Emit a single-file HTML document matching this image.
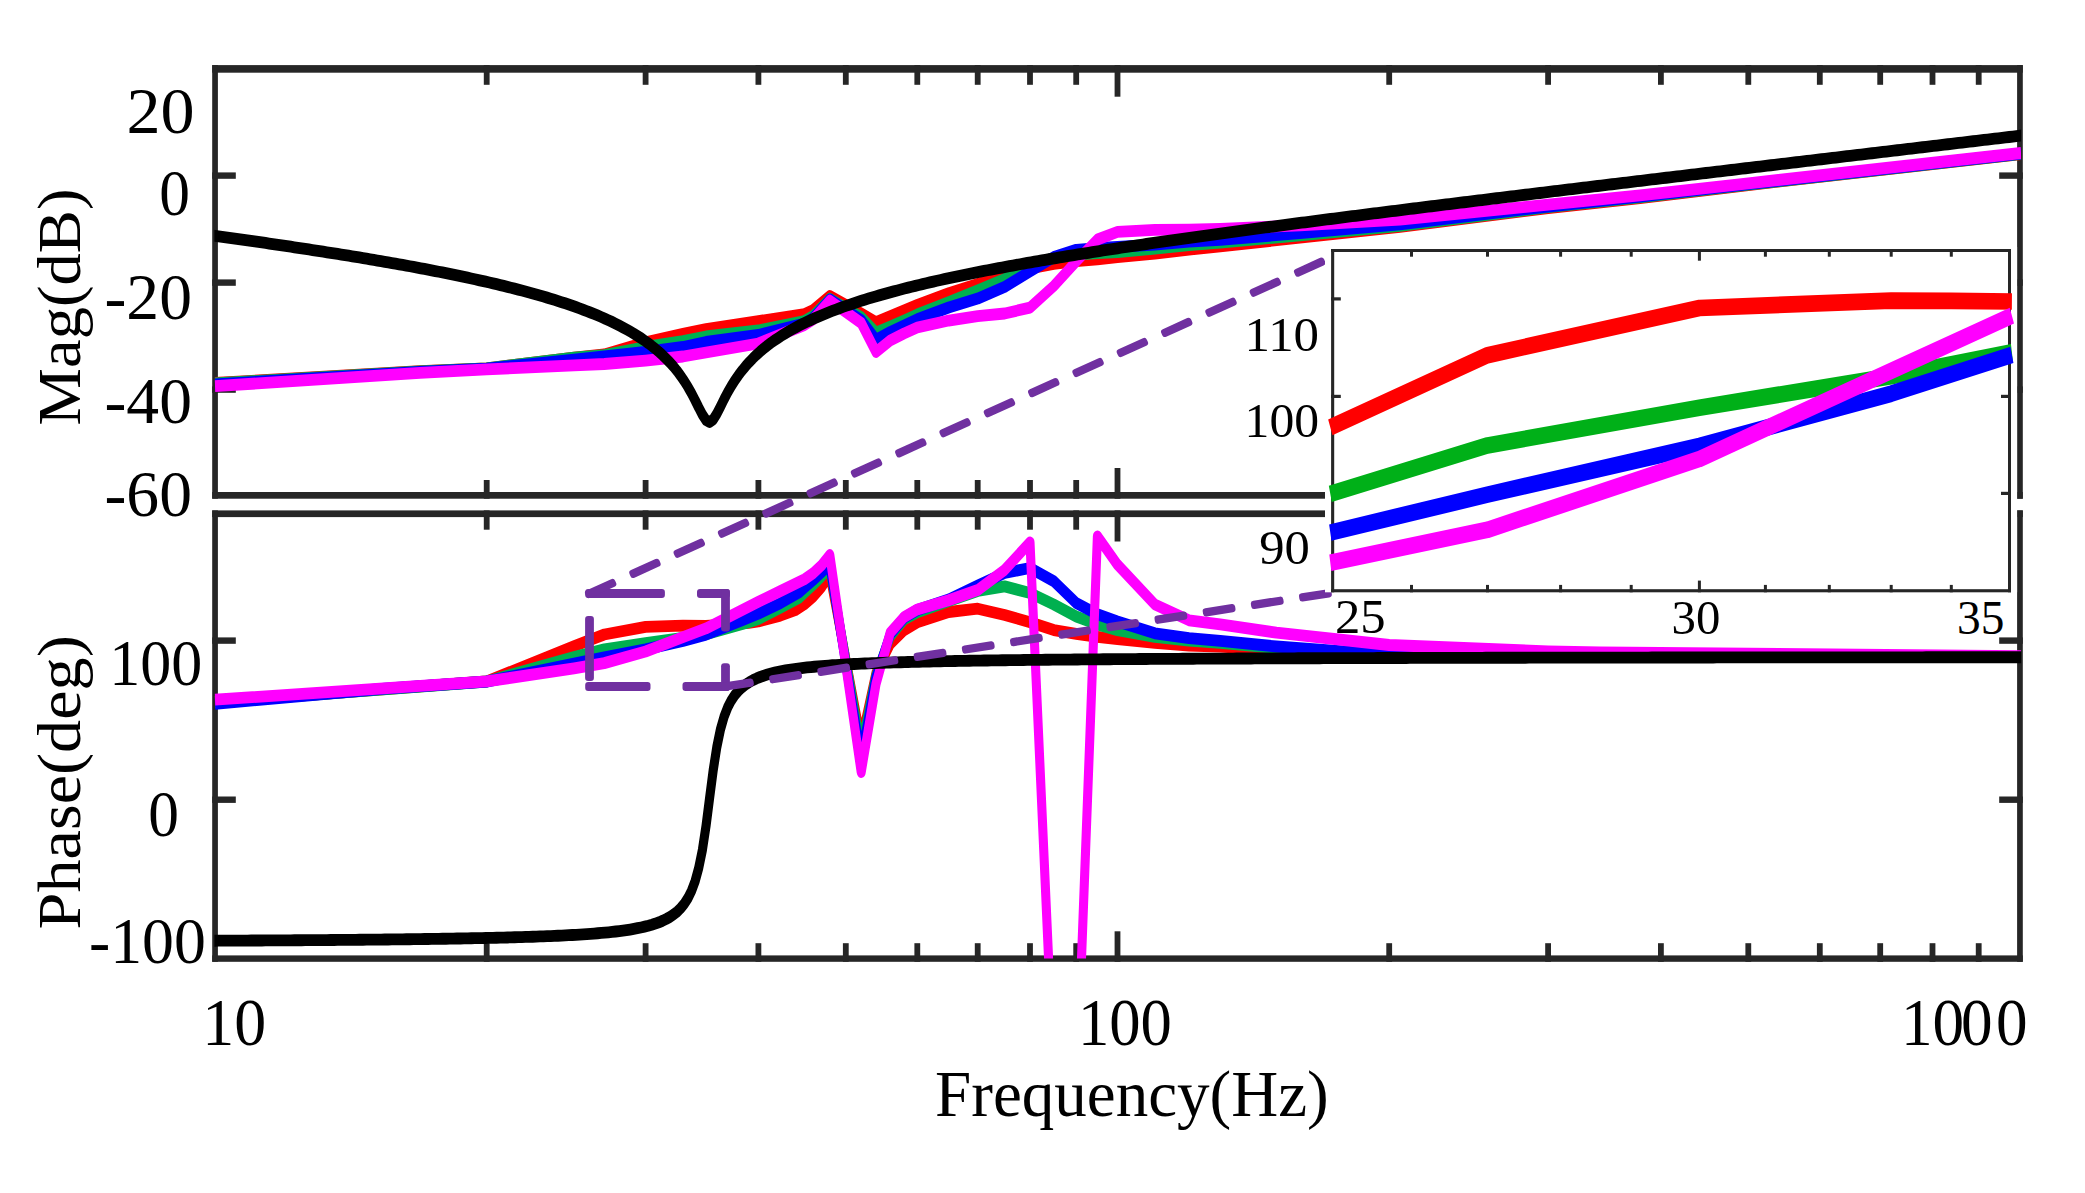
<!DOCTYPE html>
<html lang="en"><head><meta charset="utf-8"><title>Bode plot</title>
<style>html,body{margin:0;padding:0;background:#fff}svg{display:block}text{font-family:"Liberation Serif",serif;fill:#000}</style></head><body>
<svg width="2085" height="1193" viewBox="0 0 2085 1193">
<rect width="2085" height="1193" fill="#fff"/>
<defs>
<clipPath id="ct"><rect x="214.4" y="68.9" width="1806.7" height="426.4"/></clipPath>
<clipPath id="cb"><rect x="214.4" y="513.8" width="1806.7" height="444.8"/></clipPath>
</defs>
<g id="axes">
<rect x="212.2" y="65.1" width="1810.6" height="7.6" fill="#262626"/>
<rect x="212.2" y="492.0" width="1810.6" height="6.7" fill="#262626"/>
<rect x="212.2" y="65.1" width="5.7" height="433.6" fill="#262626"/>
<rect x="2017.1" y="65.1" width="5.7" height="433.6" fill="#262626"/>
<rect x="212.2" y="510.4" width="1810.6" height="6.7" fill="#262626"/>
<rect x="212.2" y="955.4" width="1810.6" height="6.4" fill="#262626"/>
<rect x="212.2" y="510.4" width="5.7" height="451.4" fill="#262626"/>
<rect x="2017.1" y="510.4" width="5.7" height="451.4" fill="#262626"/>
<rect x="483.8" y="65.1" width="5.8" height="19.7" fill="#262626"/>
<rect x="483.8" y="480.0" width="5.8" height="18.7" fill="#262626"/>
<rect x="483.8" y="510.4" width="5.8" height="19.3" fill="#262626"/>
<rect x="483.8" y="943.2" width="5.8" height="18.6" fill="#262626"/>
<rect x="642.7" y="65.1" width="5.8" height="19.7" fill="#262626"/>
<rect x="642.7" y="480.0" width="5.8" height="18.7" fill="#262626"/>
<rect x="642.7" y="510.4" width="5.8" height="19.3" fill="#262626"/>
<rect x="642.7" y="943.2" width="5.8" height="18.6" fill="#262626"/>
<rect x="755.5" y="65.1" width="5.8" height="19.7" fill="#262626"/>
<rect x="755.5" y="480.0" width="5.8" height="18.7" fill="#262626"/>
<rect x="755.5" y="510.4" width="5.8" height="19.3" fill="#262626"/>
<rect x="755.5" y="943.2" width="5.8" height="18.6" fill="#262626"/>
<rect x="842.9" y="65.1" width="5.8" height="19.7" fill="#262626"/>
<rect x="842.9" y="480.0" width="5.8" height="18.7" fill="#262626"/>
<rect x="842.9" y="510.4" width="5.8" height="19.3" fill="#262626"/>
<rect x="842.9" y="943.2" width="5.8" height="18.6" fill="#262626"/>
<rect x="914.4" y="65.1" width="5.8" height="19.7" fill="#262626"/>
<rect x="914.4" y="480.0" width="5.8" height="18.7" fill="#262626"/>
<rect x="914.4" y="510.4" width="5.8" height="19.3" fill="#262626"/>
<rect x="914.4" y="943.2" width="5.8" height="18.6" fill="#262626"/>
<rect x="974.8" y="65.1" width="5.8" height="19.7" fill="#262626"/>
<rect x="974.8" y="480.0" width="5.8" height="18.7" fill="#262626"/>
<rect x="974.8" y="510.4" width="5.8" height="19.3" fill="#262626"/>
<rect x="974.8" y="943.2" width="5.8" height="18.6" fill="#262626"/>
<rect x="1027.1" y="65.1" width="5.8" height="19.7" fill="#262626"/>
<rect x="1027.1" y="480.0" width="5.8" height="18.7" fill="#262626"/>
<rect x="1027.1" y="510.4" width="5.8" height="19.3" fill="#262626"/>
<rect x="1027.1" y="943.2" width="5.8" height="18.6" fill="#262626"/>
<rect x="1073.3" y="65.1" width="5.8" height="19.7" fill="#262626"/>
<rect x="1073.3" y="480.0" width="5.8" height="18.7" fill="#262626"/>
<rect x="1073.3" y="510.4" width="5.8" height="19.3" fill="#262626"/>
<rect x="1073.3" y="943.2" width="5.8" height="18.6" fill="#262626"/>
<rect x="1114.6" y="65.1" width="5.8" height="31.6" fill="#262626"/>
<rect x="1114.6" y="468.0" width="5.8" height="30.7" fill="#262626"/>
<rect x="1114.6" y="510.4" width="5.8" height="31.1" fill="#262626"/>
<rect x="1114.6" y="931.3" width="5.8" height="30.5" fill="#262626"/>
<rect x="1386.3" y="65.1" width="5.8" height="19.7" fill="#262626"/>
<rect x="1386.3" y="480.0" width="5.8" height="18.7" fill="#262626"/>
<rect x="1386.3" y="510.4" width="5.8" height="19.3" fill="#262626"/>
<rect x="1386.3" y="943.2" width="5.8" height="18.6" fill="#262626"/>
<rect x="1545.2" y="65.1" width="5.8" height="19.7" fill="#262626"/>
<rect x="1545.2" y="480.0" width="5.8" height="18.7" fill="#262626"/>
<rect x="1545.2" y="510.4" width="5.8" height="19.3" fill="#262626"/>
<rect x="1545.2" y="943.2" width="5.8" height="18.6" fill="#262626"/>
<rect x="1658.0" y="65.1" width="5.8" height="19.7" fill="#262626"/>
<rect x="1658.0" y="480.0" width="5.8" height="18.7" fill="#262626"/>
<rect x="1658.0" y="510.4" width="5.8" height="19.3" fill="#262626"/>
<rect x="1658.0" y="943.2" width="5.8" height="18.6" fill="#262626"/>
<rect x="1745.4" y="65.1" width="5.8" height="19.7" fill="#262626"/>
<rect x="1745.4" y="480.0" width="5.8" height="18.7" fill="#262626"/>
<rect x="1745.4" y="510.4" width="5.8" height="19.3" fill="#262626"/>
<rect x="1745.4" y="943.2" width="5.8" height="18.6" fill="#262626"/>
<rect x="1816.9" y="65.1" width="5.8" height="19.7" fill="#262626"/>
<rect x="1816.9" y="480.0" width="5.8" height="18.7" fill="#262626"/>
<rect x="1816.9" y="510.4" width="5.8" height="19.3" fill="#262626"/>
<rect x="1816.9" y="943.2" width="5.8" height="18.6" fill="#262626"/>
<rect x="1877.3" y="65.1" width="5.8" height="19.7" fill="#262626"/>
<rect x="1877.3" y="480.0" width="5.8" height="18.7" fill="#262626"/>
<rect x="1877.3" y="510.4" width="5.8" height="19.3" fill="#262626"/>
<rect x="1877.3" y="943.2" width="5.8" height="18.6" fill="#262626"/>
<rect x="1929.6" y="65.1" width="5.8" height="19.7" fill="#262626"/>
<rect x="1929.6" y="480.0" width="5.8" height="18.7" fill="#262626"/>
<rect x="1929.6" y="510.4" width="5.8" height="19.3" fill="#262626"/>
<rect x="1929.6" y="943.2" width="5.8" height="18.6" fill="#262626"/>
<rect x="1975.8" y="65.1" width="5.8" height="19.7" fill="#262626"/>
<rect x="1975.8" y="480.0" width="5.8" height="18.7" fill="#262626"/>
<rect x="1975.8" y="510.4" width="5.8" height="19.3" fill="#262626"/>
<rect x="1975.8" y="943.2" width="5.8" height="18.6" fill="#262626"/>
<rect x="212.2" y="172.4" width="23.6" height="6.4" fill="#262626"/>
<rect x="1999.2" y="172.4" width="23.6" height="6.4" fill="#262626"/>
<rect x="212.2" y="279.4" width="23.6" height="6.4" fill="#262626"/>
<rect x="1999.2" y="279.4" width="23.6" height="6.4" fill="#262626"/>
<rect x="212.2" y="386.4" width="23.6" height="6.4" fill="#262626"/>
<rect x="1999.2" y="386.4" width="23.6" height="6.4" fill="#262626"/>
<rect x="212.2" y="637.4" width="23.6" height="6.4" fill="#262626"/>
<rect x="1999.2" y="637.4" width="23.6" height="6.4" fill="#262626"/>
<rect x="212.2" y="796.5" width="23.6" height="6.4" fill="#262626"/>
<rect x="1999.2" y="796.5" width="23.6" height="6.4" fill="#262626"/>
</g>
<g clip-path="url(#ct)"><g transform="scale(1 1.300)" fill="none" stroke-linejoin="round" stroke-linecap="butt">
<polyline points="215.0,294.62 420.0,285.54 486.7,283.31 574.1,275.08 604.3,272.62 645.6,263.31 683.0,256.77 706.0,253.15 758.4,247.08 804.5,241.54 813.1,238.46 829.8,227.62 861.2,241.15 876.0,247.77 917.3,234.62 948.7,225.54 977.7,218.46 1004.7,211.92 1030.0,206.54 1053.8,202.92 1076.2,200.85 1097.4,199.54 1117.5,197.85 1154.9,195.15 1189.0,191.92 1220.3,189.46 1300.0,182.85 1400.0,174.54 1548.1,160.00 1640.0,152.46 1748.3,142.31 2021.0,118.46" stroke="#FF0000" stroke-width="9.10" />
<polyline points="215.0,294.92 420.0,285.69 486.7,283.38 574.1,275.08 604.3,273.23 645.6,266.92 683.0,262.46 706.0,258.85 758.4,254.23 804.5,246.92 813.1,243.08 829.8,229.85 861.2,244.00 876.0,255.92 890.2,251.23 904.0,246.62 917.3,241.92 948.7,232.46 977.7,223.38 1004.7,214.62 1030.0,204.62 1053.8,198.46 1076.2,195.77 1097.4,194.77 1117.5,194.00 1154.9,191.31 1189.0,188.54 1220.3,186.69 1300.0,181.00 1400.0,173.69 1548.1,159.38 1640.0,151.77 1748.3,142.00 2021.0,118.31" stroke="#00B050" stroke-width="9.10" />
<polyline points="215.0,295.62 420.0,286.00 486.7,283.62 574.1,276.62 604.3,274.08 645.6,270.62 683.0,266.92 706.0,263.08 758.4,257.69 804.5,248.85 813.1,244.62 829.8,230.31 861.2,246.15 876.0,261.31 890.2,255.38 904.0,250.38 917.3,245.54 948.7,236.54 977.7,229.69 1004.7,220.69 1030.0,208.69 1053.8,197.77 1076.2,192.15 1097.4,190.92 1117.5,189.92 1154.9,188.15 1189.0,185.92 1220.3,184.46 1300.0,179.38 1400.0,172.62 1548.1,158.85 1640.0,151.15 1748.3,141.69 2021.0,118.15" stroke="#0000FF" stroke-width="9.10" />
<polyline points="215.0,297.08 420.0,286.85 486.7,284.15 574.1,281.00 604.3,280.00 645.6,277.38 683.0,274.23 706.0,271.15 758.4,264.23 804.5,250.00 813.1,245.77 829.8,231.23 861.2,248.46 876.0,270.77 890.2,261.92 904.0,256.54 917.3,251.92 948.7,246.54 977.7,243.23 1004.7,241.15 1030.0,236.62 1053.8,220.00 1076.2,201.15 1097.4,184.23 1117.5,178.38 1154.9,176.77 1189.0,176.62 1220.3,176.00 1276.4,174.15 1300.0,173.38 1400.0,169.00 1548.1,157.46 1640.0,150.23 1748.3,141.00 2021.0,117.69" stroke="#FF00FF" stroke-width="9.10" />
<polyline points="207.8,180.65 211.4,181.03 215.0,181.41 218.6,181.80 222.2,182.18 225.8,182.57 229.4,182.96 233.1,183.35 236.7,183.74 240.3,184.14 243.9,184.53 247.5,184.92 251.1,185.32 254.7,185.72 258.3,186.12 261.9,186.52 265.5,186.92 269.2,187.33 272.8,187.73 276.4,188.14 280.0,188.55 283.6,188.96 287.2,189.37 290.8,189.79 294.4,190.20 298.0,190.62 301.6,191.04 305.3,191.46 308.9,191.89 312.5,192.31 316.1,192.74 319.7,193.17 323.3,193.61 326.9,194.04 330.5,194.48 334.1,194.92 337.7,195.36 341.4,195.80 345.0,196.25 348.6,196.70 352.2,197.15 355.8,197.61 359.4,198.06 363.0,198.53 366.6,198.99 370.2,199.46 373.8,199.93 377.4,200.40 381.1,200.88 384.7,201.36 388.3,201.84 391.9,202.33 395.5,202.82 399.1,203.31 402.7,203.81 406.3,204.31 409.9,204.82 413.6,205.33 417.2,205.85 420.8,206.37 424.4,206.89 428.0,207.42 431.6,207.95 435.2,208.49 438.8,209.04 442.4,209.59 446.0,210.14 449.6,210.70 453.3,211.27 456.9,211.84 460.5,212.42 464.1,213.01 467.7,213.60 471.3,214.20 474.9,214.81 478.5,215.42 482.1,216.04 485.8,216.67 489.4,217.31 493.0,217.96 496.6,218.61 500.2,219.28 503.8,219.95 507.4,220.64 511.0,221.33 514.6,222.04 518.2,222.75 521.9,223.48 525.5,224.22 529.1,224.97 532.7,225.74 536.3,226.52 539.9,227.31 543.5,228.12 547.1,228.95 550.7,229.79 554.3,230.64 557.9,231.52 561.6,232.41 565.2,233.33 568.8,234.27 572.4,235.22 576.0,236.20 579.6,237.21 583.2,238.24 586.8,239.30 590.4,240.39 594.0,241.51 597.7,242.66 601.3,243.85 604.9,245.07 608.5,246.33 612.1,247.64 615.7,249.00 619.3,250.40 622.9,251.85 626.5,253.37 630.1,254.95 633.8,256.59 637.4,258.31 641.0,260.12 644.6,262.01 648.2,264.00 651.8,266.11 655.4,268.34 659.0,270.70 662.6,273.23 666.2,275.93 669.9,278.83 673.5,281.97 677.1,285.37 680.7,289.08 684.3,293.15 687.9,297.61 691.5,302.52 695.1,307.85 698.7,313.47 702.4,318.91 706.0,323.14 709.6,324.66 713.2,322.76 716.8,318.33 720.4,312.83 724.0,307.23 727.6,301.94 731.2,297.09 734.8,292.67 738.5,288.64 742.1,284.97 745.7,281.60 749.3,278.49 752.9,275.61 756.5,272.93 760.1,270.43 763.7,268.08 767.3,265.86 770.9,263.77 774.6,261.79 778.2,259.91 781.8,258.11 785.4,256.40 789.0,254.76 792.6,253.19 796.2,251.69 799.8,250.24 803.4,248.84 807.0,247.49 810.7,246.19 814.3,244.93 817.9,243.71 821.5,242.53 825.1,241.38 828.7,240.26 832.3,239.18 835.9,238.12 839.5,237.09 843.1,236.09 846.8,235.11 850.4,234.16 854.0,233.22 857.6,232.31 861.2,231.42 864.8,230.55 868.4,229.69 872.0,228.85 875.6,228.03 879.2,227.22 882.9,226.43 886.5,225.65 890.1,224.89 893.7,224.14 897.3,223.40 900.9,222.67 904.5,221.96 908.1,221.25 911.7,220.56 915.3,219.87 919.0,219.20 922.6,218.54 926.2,217.88 929.8,217.24 933.4,216.60 937.0,215.97 940.6,215.35 944.2,214.74 947.8,214.13 951.4,213.53 955.0,212.94 958.7,212.36 962.3,211.78 965.9,211.20 969.5,210.64 973.1,210.08 976.7,209.52 980.3,208.97 983.9,208.43 987.5,207.89 991.1,207.36 994.8,206.83 998.4,206.31 1002.0,205.79 1005.6,205.27 1009.2,204.76 1012.8,204.26 1016.4,203.75 1020.0,203.26 1023.6,202.76 1027.2,202.27 1030.9,201.78 1034.5,201.30 1038.1,200.82 1041.7,200.35 1045.3,199.87 1048.9,199.40 1052.5,198.94 1056.1,198.47 1059.7,198.01 1063.3,197.56 1067.0,197.10 1070.6,196.65 1074.2,196.20 1077.8,195.75 1081.4,195.31 1085.0,194.87 1088.6,194.43 1092.2,193.99 1095.8,193.56 1099.4,193.12 1103.1,192.69 1106.7,192.27 1110.3,191.84 1113.9,191.42 1117.5,190.99 1121.1,190.57 1124.7,190.16 1128.3,189.74 1131.9,189.33 1135.6,188.91 1139.2,188.50 1142.8,188.09 1146.4,187.69 1150.0,187.28 1153.6,186.88 1157.2,186.48 1160.8,186.07 1164.4,185.67 1168.0,185.28 1171.7,184.88 1175.3,184.48 1178.9,184.09 1182.5,183.70 1186.1,183.31 1189.7,182.92 1193.3,182.53 1196.9,182.14 1200.5,181.75 1204.1,181.37 1207.8,180.98 1211.4,180.60 1215.0,180.22 1218.6,179.84 1222.2,179.46 1225.8,179.08 1229.4,178.70 1233.0,178.33 1236.6,177.95 1240.2,177.58 1243.8,177.20 1247.5,176.83 1251.1,176.46 1254.7,176.09 1258.3,175.72 1261.9,175.35 1265.5,174.98 1269.1,174.61 1272.7,174.24 1276.3,173.88 1279.9,173.51 1283.6,173.14 1287.2,172.78 1290.8,172.42 1294.4,172.05 1298.0,171.69 1301.6,171.33 1305.2,170.97 1308.8,170.61 1312.4,170.25 1316.0,169.89 1319.7,169.53 1323.3,169.17 1326.9,168.82 1330.5,168.46 1334.1,168.10 1337.7,167.75 1341.3,167.39 1344.9,167.04 1348.5,166.69 1352.1,166.33 1355.8,165.98 1359.4,165.63 1363.0,165.27 1366.6,164.92 1370.2,164.57 1373.8,164.22 1377.4,163.87 1381.0,163.52 1384.6,163.17 1388.2,162.82 1391.9,162.47 1395.5,162.13 1399.1,161.78 1402.7,161.43 1406.3,161.08 1409.9,160.74 1413.5,160.39 1417.1,160.04 1420.7,159.70 1424.3,159.35 1428.0,159.01 1431.6,158.66 1435.2,158.32 1438.8,157.97 1442.4,157.63 1446.0,157.29 1449.6,156.94 1453.2,156.60 1456.8,156.26 1460.4,155.92 1464.1,155.57 1467.7,155.23 1471.3,154.89 1474.9,154.55 1478.5,154.21 1482.1,153.87 1485.7,153.53 1489.3,153.19 1492.9,152.85 1496.5,152.51 1500.2,152.17 1503.8,151.83 1507.4,151.49 1511.0,151.15 1514.6,150.81 1518.2,150.47 1521.8,150.13 1525.4,149.80 1529.0,149.46 1532.6,149.12 1536.3,148.78 1539.9,148.45 1543.5,148.11 1547.1,147.77 1550.7,147.43 1554.3,147.10 1557.9,146.76 1561.5,146.43 1565.1,146.09 1568.8,145.75 1572.4,145.42 1576.0,145.08 1579.6,144.75 1583.2,144.41 1586.8,144.08 1590.4,143.74 1594.0,143.41 1597.6,143.07 1601.2,142.74 1604.9,142.40 1608.5,142.07 1612.1,141.73 1615.7,141.40 1619.3,141.06 1622.9,140.73 1626.5,140.40 1630.1,140.06 1633.7,139.73 1637.3,139.40 1641.0,139.06 1644.6,138.73 1648.2,138.40 1651.8,138.06 1655.4,137.73 1659.0,137.40 1662.6,137.06 1666.2,136.73 1669.8,136.40 1673.4,136.07 1677.1,135.73 1680.7,135.40 1684.3,135.07 1687.9,134.74 1691.5,134.40 1695.1,134.07 1698.7,133.74 1702.3,133.41 1705.9,133.08 1709.5,132.74 1713.2,132.41 1716.8,132.08 1720.4,131.75 1724.0,131.42 1727.6,131.09 1731.2,130.76 1734.8,130.42 1738.4,130.09 1742.0,129.76 1745.6,129.43 1749.3,129.10 1752.9,128.77 1756.5,128.44 1760.1,128.11 1763.7,127.78 1767.3,127.45 1770.9,127.12 1774.5,126.78 1778.1,126.45 1781.7,126.12 1785.4,125.79 1789.0,125.46 1792.6,125.13 1796.2,124.80 1799.8,124.47 1803.4,124.14 1807.0,123.81 1810.6,123.48 1814.2,123.15 1817.8,122.82 1821.5,122.49 1825.1,122.16 1828.7,121.83 1832.3,121.50 1835.9,121.17 1839.5,120.84 1843.1,120.51 1846.7,120.18 1850.3,119.85 1853.9,119.52 1857.6,119.19 1861.2,118.86 1864.8,118.54 1868.4,118.21 1872.0,117.88 1875.6,117.55 1879.2,117.22 1882.8,116.89 1886.4,116.56 1890.0,116.23 1893.7,115.90 1897.3,115.57 1900.9,115.24 1904.5,114.91 1908.1,114.58 1911.7,114.25 1915.3,113.93 1918.9,113.60 1922.5,113.27 1926.1,112.94 1929.8,112.61 1933.4,112.28 1937.0,111.95 1940.6,111.62 1944.2,111.29 1947.8,110.96 1951.4,110.64 1955.0,110.31 1958.6,109.98 1962.2,109.65 1965.8,109.32 1969.5,108.99 1973.1,108.66 1976.7,108.33 1980.3,108.01 1983.9,107.68 1987.5,107.35 1991.1,107.02 1994.7,106.69 1998.3,106.36 2002.0,106.03 2005.6,105.70 2009.2,105.38 2012.8,105.05 2016.4,104.72 2020.0,104.39 2023.6,104.06 2027.2,103.73" stroke="#000000" stroke-width="9.10" />
</g></g>
<g clip-path="url(#cb)"><g transform="scale(1 1.300)" fill="none" stroke-linejoin="round" stroke-linecap="butt">
<polyline points="215.0,540.00 486.7,524.15 574.1,497.08 604.3,488.08 645.6,482.15 683.0,481.31 706.0,481.38 748.7,479.15 758.4,478.00 780.3,473.54 795.4,469.31 804.5,464.77 813.1,459.08 821.6,451.54 829.8,441.54 861.2,570.00 876.0,517.69 890.2,495.38 904.0,484.92 917.3,478.69 948.7,470.77 977.7,468.23 1004.7,473.08 1030.0,478.62 1053.8,484.69 1076.2,487.62 1097.4,489.92 1117.5,491.69 1154.9,494.54 1189.0,496.54 1220.3,497.46 1276.4,500.00 1389.2,504.62 1548.1,505.31 2021.0,505.38" stroke="#FF0000" stroke-width="9.10" />
<polyline points="215.0,540.00 486.7,524.23 574.1,505.46 604.3,499.46 645.6,494.69 683.0,490.77 706.0,487.77 748.7,478.69 758.4,476.15 780.3,467.54 799.2,459.77 804.5,455.92 813.1,449.77 821.6,443.23 829.8,436.62 861.2,575.77 876.0,519.23 890.2,489.62 904.0,476.54 917.3,471.00 948.7,462.31 977.7,454.62 1004.7,451.08 1030.0,456.15 1053.8,465.00 1076.2,474.23 1097.4,480.31 1117.5,484.69 1154.9,489.92 1189.0,492.85 1220.3,494.54 1276.4,498.46 1389.2,504.62 1548.1,505.31 2021.0,505.38" stroke="#00B050" stroke-width="9.10" />
<polyline points="215.0,541.38 385.0,529.77 486.7,524.31 574.1,510.38 604.3,505.69 645.6,499.54 683.0,493.00 706.0,488.23 742.6,476.92 758.4,472.00 780.3,464.00 799.2,455.62 804.5,452.08 813.1,446.23 821.6,440.08 829.8,434.23 861.2,583.46 876.0,520.77 890.2,488.08 904.0,475.23 917.3,469.23 948.7,461.15 977.7,450.46 1004.7,440.77 1030.0,436.92 1053.8,447.15 1076.2,463.85 1097.4,472.54 1117.5,478.00 1154.9,487.15 1189.0,490.85 1220.3,492.92 1276.4,497.31 1389.2,503.85 1548.1,504.62 2021.0,505.38" stroke="#0000FF" stroke-width="9.10" />
<polyline points="215.0,538.23 486.7,524.15 574.1,514.15 604.3,510.08 645.6,501.15 683.0,490.08 706.0,483.38 758.4,462.85 780.3,454.69 804.5,445.54 813.1,440.92 821.6,434.77 829.8,426.92 861.2,593.85 876.0,526.15 890.2,486.77 904.0,474.69 917.3,468.77 948.7,461.77 977.7,453.85 1004.7,438.31 1030.0,417.15 1053.8,827.31 1076.2,846.00 1097.4,412.54 1117.5,434.38 1154.9,465.00 1189.0,477.15 1220.3,480.31 1276.4,486.69 1389.2,496.15 1548.1,501.08 1600.0,501.85 2021.0,504.69" stroke="#FF00FF" stroke-width="9.10" />
<polyline points="207.8,723.67 211.4,723.65 215.0,723.64 218.6,723.62 222.2,723.61 225.8,723.60 229.4,723.58 233.1,723.57 236.7,723.55 240.3,723.54 243.9,723.52 247.5,723.51 251.1,723.49 254.7,723.48 258.3,723.46 261.9,723.45 265.5,723.43 269.2,723.41 272.8,723.40 276.4,723.38 280.0,723.36 283.6,723.34 287.2,723.33 290.8,723.31 294.4,723.29 298.0,723.27 301.6,723.25 305.3,723.23 308.9,723.21 312.5,723.19 316.1,723.17 319.7,723.15 323.3,723.13 326.9,723.11 330.5,723.09 334.1,723.06 337.7,723.04 341.4,723.02 345.0,722.99 348.6,722.97 352.2,722.94 355.8,722.92 359.4,722.89 363.0,722.87 366.6,722.84 370.2,722.82 373.8,722.79 377.4,722.76 381.1,722.73 384.7,722.70 388.3,722.67 391.9,722.64 395.5,722.61 399.1,722.58 402.7,722.55 406.3,722.51 409.9,722.48 413.6,722.44 417.2,722.41 420.8,722.37 424.4,722.33 428.0,722.30 431.6,722.26 435.2,722.22 438.8,722.18 442.4,722.13 446.0,722.09 449.6,722.05 453.3,722.00 456.9,721.95 460.5,721.90 464.1,721.86 467.7,721.80 471.3,721.75 474.9,721.70 478.5,721.64 482.1,721.59 485.8,721.53 489.4,721.47 493.0,721.40 496.6,721.34 500.2,721.27 503.8,721.20 507.4,721.13 511.0,721.06 514.6,720.98 518.2,720.90 521.9,720.82 525.5,720.73 529.1,720.64 532.7,720.55 536.3,720.45 539.9,720.35 543.5,720.25 547.1,720.14 550.7,720.03 554.3,719.91 557.9,719.78 561.6,719.65 565.2,719.52 568.8,719.37 572.4,719.22 576.0,719.07 579.6,718.90 583.2,718.72 586.8,718.53 590.4,718.34 594.0,718.13 597.7,717.90 601.3,717.67 604.9,717.41 608.5,717.14 612.1,716.85 615.7,716.54 619.3,716.20 622.9,715.84 626.5,715.44 630.1,715.01 633.8,714.54 637.4,714.02 641.0,713.45 644.6,712.82 648.2,712.12 651.8,711.33 655.4,710.44 659.0,709.43 662.6,708.27 666.2,706.94 669.9,705.37 673.5,703.52 677.1,701.29 680.7,698.57 684.3,695.20 687.9,690.90 691.5,685.32 695.1,677.87 698.7,667.71 702.4,653.82 706.0,635.51 709.6,613.89 713.2,592.50 716.8,574.69 720.4,561.27 724.0,551.48 727.6,544.27 731.2,538.86 734.8,534.69 738.5,531.40 742.1,528.74 745.7,526.56 749.3,524.75 752.9,523.21 756.5,521.89 760.1,520.76 763.7,519.76 767.3,518.88 770.9,518.11 774.6,517.41 778.2,516.79 781.8,516.23 785.4,515.71 789.0,515.25 792.6,514.82 796.2,514.43 799.8,514.07 803.4,513.73 807.0,513.42 810.7,513.13 814.3,512.87 817.9,512.61 821.5,512.38 825.1,512.16 828.7,511.95 832.3,511.75 835.9,511.57 839.5,511.39 843.1,511.22 846.8,511.07 850.4,510.92 854.0,510.77 857.6,510.64 861.2,510.51 864.8,510.39 868.4,510.27 872.0,510.15 875.6,510.05 879.2,509.94 882.9,509.84 886.5,509.75 890.1,509.65 893.7,509.57 897.3,509.48 900.9,509.40 904.5,509.32 908.1,509.24 911.7,509.17 915.3,509.10 919.0,509.03 922.6,508.96 926.2,508.90 929.8,508.84 933.4,508.77 937.0,508.72 940.6,508.66 944.2,508.60 947.8,508.55 951.4,508.50 955.0,508.45 958.7,508.40 962.3,508.35 965.9,508.30 969.5,508.26 973.1,508.21 976.7,508.17 980.3,508.13 983.9,508.09 987.5,508.05 991.1,508.01 994.8,507.97 998.4,507.93 1002.0,507.90 1005.6,507.86 1009.2,507.83 1012.8,507.79 1016.4,507.76 1020.0,507.73 1023.6,507.69 1027.2,507.66 1030.9,507.63 1034.5,507.60 1038.1,507.57 1041.7,507.54 1045.3,507.52 1048.9,507.49 1052.5,507.46 1056.1,507.44 1059.7,507.41 1063.3,507.38 1067.0,507.36 1070.6,507.34 1074.2,507.31 1077.8,507.29 1081.4,507.26 1085.0,507.24 1088.6,507.22 1092.2,507.20 1095.8,507.18 1099.4,507.16 1103.1,507.13 1106.7,507.11 1110.3,507.09 1113.9,507.07 1117.5,507.05 1121.1,507.04 1124.7,507.02 1128.3,507.00 1131.9,506.98 1135.6,506.96 1139.2,506.94 1142.8,506.93 1146.4,506.91 1150.0,506.89 1153.6,506.88 1157.2,506.86 1160.8,506.84 1164.4,506.83 1168.0,506.81 1171.7,506.80 1175.3,506.78 1178.9,506.77 1182.5,506.75 1186.1,506.74 1189.7,506.72 1193.3,506.71 1196.9,506.69 1200.5,506.68 1204.1,506.67 1207.8,506.65 1211.4,506.64 1215.0,506.63 1218.6,506.62 1222.2,506.60 1225.8,506.59 1229.4,506.58 1233.0,506.57 1236.6,506.55 1240.2,506.54 1243.8,506.53 1247.5,506.52 1251.1,506.51 1254.7,506.50 1258.3,506.48 1261.9,506.47 1265.5,506.46 1269.1,506.45 1272.7,506.44 1276.3,506.43 1279.9,506.42 1283.6,506.41 1287.2,506.40 1290.8,506.39 1294.4,506.38 1298.0,506.37 1301.6,506.36 1305.2,506.35 1308.8,506.34 1312.4,506.33 1316.0,506.32 1319.7,506.32 1323.3,506.31 1326.9,506.30 1330.5,506.29 1334.1,506.28 1337.7,506.27 1341.3,506.26 1344.9,506.26 1348.5,506.25 1352.1,506.24 1355.8,506.23 1359.4,506.22 1363.0,506.21 1366.6,506.21 1370.2,506.20 1373.8,506.19 1377.4,506.18 1381.0,506.18 1384.6,506.17 1388.2,506.16 1391.9,506.15 1395.5,506.15 1399.1,506.14 1402.7,506.13 1406.3,506.13 1409.9,506.12 1413.5,506.11 1417.1,506.11 1420.7,506.10 1424.3,506.09 1428.0,506.09 1431.6,506.08 1435.2,506.07 1438.8,506.07 1442.4,506.06 1446.0,506.06 1449.6,506.05 1453.2,506.04 1456.8,506.04 1460.4,506.03 1464.1,506.03 1467.7,506.02 1471.3,506.01 1474.9,506.01 1478.5,506.00 1482.1,506.00 1485.7,505.99 1489.3,505.99 1492.9,505.98 1496.5,505.98 1500.2,505.97 1503.8,505.97 1507.4,505.96 1511.0,505.96 1514.6,505.95 1518.2,505.95 1521.8,505.94 1525.4,505.94 1529.0,505.93 1532.6,505.93 1536.3,505.92 1539.9,505.92 1543.5,505.91 1547.1,505.91 1550.7,505.90 1554.3,505.90 1557.9,505.89 1561.5,505.89 1565.1,505.88 1568.8,505.88 1572.4,505.88 1576.0,505.87 1579.6,505.87 1583.2,505.86 1586.8,505.86 1590.4,505.86 1594.0,505.85 1597.6,505.85 1601.2,505.84 1604.9,505.84 1608.5,505.84 1612.1,505.83 1615.7,505.83 1619.3,505.82 1622.9,505.82 1626.5,505.82 1630.1,505.81 1633.7,505.81 1637.3,505.81 1641.0,505.80 1644.6,505.80 1648.2,505.80 1651.8,505.79 1655.4,505.79 1659.0,505.78 1662.6,505.78 1666.2,505.78 1669.8,505.77 1673.4,505.77 1677.1,505.77 1680.7,505.76 1684.3,505.76 1687.9,505.76 1691.5,505.76 1695.1,505.75 1698.7,505.75 1702.3,505.75 1705.9,505.74 1709.5,505.74 1713.2,505.74 1716.8,505.73 1720.4,505.73 1724.0,505.73 1727.6,505.73 1731.2,505.72 1734.8,505.72 1738.4,505.72 1742.0,505.71 1745.6,505.71 1749.3,505.71 1752.9,505.71 1756.5,505.70 1760.1,505.70 1763.7,505.70 1767.3,505.70 1770.9,505.69 1774.5,505.69 1778.1,505.69 1781.7,505.69 1785.4,505.68 1789.0,505.68 1792.6,505.68 1796.2,505.68 1799.8,505.67 1803.4,505.67 1807.0,505.67 1810.6,505.67 1814.2,505.67 1817.8,505.66 1821.5,505.66 1825.1,505.66 1828.7,505.66 1832.3,505.65 1835.9,505.65 1839.5,505.65 1843.1,505.65 1846.7,505.65 1850.3,505.64 1853.9,505.64 1857.6,505.64 1861.2,505.64 1864.8,505.64 1868.4,505.63 1872.0,505.63 1875.6,505.63 1879.2,505.63 1882.8,505.63 1886.4,505.62 1890.0,505.62 1893.7,505.62 1897.3,505.62 1900.9,505.62 1904.5,505.62 1908.1,505.61 1911.7,505.61 1915.3,505.61 1918.9,505.61 1922.5,505.61 1926.1,505.60 1929.8,505.60 1933.4,505.60 1937.0,505.60 1940.6,505.60 1944.2,505.60 1947.8,505.60 1951.4,505.59 1955.0,505.59 1958.6,505.59 1962.2,505.59 1965.8,505.59 1969.5,505.59 1973.1,505.58 1976.7,505.58 1980.3,505.58 1983.9,505.58 1987.5,505.58 1991.1,505.58 1994.7,505.58 1998.3,505.57 2002.0,505.57 2005.6,505.57 2009.2,505.57 2012.8,505.57 2016.4,505.57 2020.0,505.57 2023.6,505.56 2027.2,505.56" stroke="#000000" stroke-width="9.10" />
</g></g>
<g id="zoom-marks" fill="#7030A0">
<rect x="585.2" y="589.1" width="79.7" height="8.8" rx="3.0"/>
<rect x="697.0" y="589.1" width="32.9" height="8.8" rx="3.0"/>
<rect x="721.1" y="589.1" width="8.8" height="42.4" rx="3.0"/>
<rect x="721.1" y="663.3" width="8.8" height="27.6" rx="3.0"/>
<rect x="682.5" y="682.1" width="47.4" height="8.8" rx="3.0"/>
<rect x="585.2" y="682.1" width="65.3" height="8.8" rx="3.0"/>
<rect x="585.1" y="616.0" width="8.8" height="65.0" rx="3.0"/>
<g transform="translate(589.50 593.50) rotate(-24.380)">
<rect x="-4.15" y="-4.15" width="32.80" height="8.30" rx="3.0"/>
<rect x="44.50" y="-4.15" width="32.80" height="8.30" rx="3.0"/>
<rect x="93.15" y="-4.15" width="32.80" height="8.30" rx="3.0"/>
<rect x="141.80" y="-4.15" width="32.80" height="8.30" rx="3.0"/>
<rect x="190.45" y="-4.15" width="32.80" height="8.30" rx="3.0"/>
<rect x="239.10" y="-4.15" width="32.80" height="8.30" rx="3.0"/>
<rect x="287.75" y="-4.15" width="32.80" height="8.30" rx="3.0"/>
<rect x="336.40" y="-4.15" width="32.80" height="8.30" rx="3.0"/>
<rect x="385.05" y="-4.15" width="32.80" height="8.30" rx="3.0"/>
<rect x="433.70" y="-4.15" width="32.80" height="8.30" rx="3.0"/>
<rect x="482.35" y="-4.15" width="32.80" height="8.30" rx="3.0"/>
<rect x="531.00" y="-4.15" width="32.80" height="8.30" rx="3.0"/>
<rect x="579.65" y="-4.15" width="32.80" height="8.30" rx="3.0"/>
<rect x="628.30" y="-4.15" width="32.80" height="8.30" rx="3.0"/>
<rect x="676.95" y="-4.15" width="32.80" height="8.30" rx="3.0"/>
<rect x="725.60" y="-4.15" width="32.80" height="8.30" rx="3.0"/>
<rect x="774.25" y="-4.15" width="32.80" height="8.30" rx="3.0"/>
</g>
<g transform="translate(725.30 686.50) rotate(-8.780)">
<rect x="-4.15" y="-4.15" width="32.80" height="8.30" rx="3.0"/>
<rect x="44.59" y="-4.15" width="32.80" height="8.30" rx="3.0"/>
<rect x="93.33" y="-4.15" width="32.80" height="8.30" rx="3.0"/>
<rect x="142.07" y="-4.15" width="32.80" height="8.30" rx="3.0"/>
<rect x="190.81" y="-4.15" width="32.80" height="8.30" rx="3.0"/>
<rect x="239.55" y="-4.15" width="32.80" height="8.30" rx="3.0"/>
<rect x="288.29" y="-4.15" width="32.80" height="8.30" rx="3.0"/>
<rect x="337.03" y="-4.15" width="32.80" height="8.30" rx="3.0"/>
<rect x="385.77" y="-4.15" width="32.80" height="8.30" rx="3.0"/>
<rect x="434.51" y="-4.15" width="32.80" height="8.30" rx="3.0"/>
<rect x="483.25" y="-4.15" width="32.80" height="8.30" rx="3.0"/>
<rect x="531.99" y="-4.15" width="32.80" height="8.30" rx="3.0"/>
<rect x="580.73" y="-4.15" width="32.80" height="8.30" rx="3.0"/>
</g>
</g>
<rect x="1325.0" y="247.0" width="692.1" height="345.3" fill="#fff"/>
<g id="inset-axes">
<rect x="1331.1" y="249.0" width="679.9" height="3.0" fill="#262626"/>
<rect x="1331.1" y="589.2" width="679.9" height="3.1" fill="#262626"/>
<rect x="1331.1" y="249.0" width="3.1" height="343.3" fill="#262626"/>
<rect x="2008.0" y="249.0" width="3.0" height="343.3" fill="#262626"/>
<rect x="1410.0" y="249.0" width="3.0" height="7.7" fill="#262626"/>
<rect x="1410.0" y="584.9" width="3.0" height="7.4" fill="#262626"/>
<rect x="1486.0" y="249.0" width="3.0" height="7.7" fill="#262626"/>
<rect x="1486.0" y="584.9" width="3.0" height="7.4" fill="#262626"/>
<rect x="1559.1" y="249.0" width="3.0" height="7.7" fill="#262626"/>
<rect x="1559.1" y="584.9" width="3.0" height="7.4" fill="#262626"/>
<rect x="1629.7" y="249.0" width="3.0" height="7.7" fill="#262626"/>
<rect x="1629.7" y="584.9" width="3.0" height="7.4" fill="#262626"/>
<rect x="1697.9" y="249.0" width="3.0" height="11.7" fill="#262626"/>
<rect x="1697.9" y="580.6" width="3.0" height="11.7" fill="#262626"/>
<rect x="1763.9" y="249.0" width="3.0" height="7.7" fill="#262626"/>
<rect x="1763.9" y="584.9" width="3.0" height="7.4" fill="#262626"/>
<rect x="1827.8" y="249.0" width="3.0" height="7.7" fill="#262626"/>
<rect x="1827.8" y="584.9" width="3.0" height="7.4" fill="#262626"/>
<rect x="1889.7" y="249.0" width="3.0" height="7.7" fill="#262626"/>
<rect x="1889.7" y="584.9" width="3.0" height="7.4" fill="#262626"/>
<rect x="1949.8" y="249.0" width="3.0" height="7.7" fill="#262626"/>
<rect x="1949.8" y="584.9" width="3.0" height="7.4" fill="#262626"/>
<rect x="1331.1" y="297.3" width="9.7" height="3.2" fill="#262626"/>
<rect x="2001.0" y="297.3" width="10.0" height="3.2" fill="#262626"/>
<rect x="1331.1" y="394.8" width="9.7" height="3.2" fill="#262626"/>
<rect x="2001.0" y="394.8" width="10.0" height="3.2" fill="#262626"/>
<rect x="1331.1" y="491.8" width="9.7" height="3.2" fill="#262626"/>
<rect x="2001.0" y="491.8" width="10.0" height="3.2" fill="#262626"/>
</g>
<g transform="scale(1 1.300)" fill="none" stroke-linejoin="round" stroke-linecap="butt">
<polyline points="1330.3,328.81 1487.5,273.23 1699.4,236.92 1891.2,231.23 1951.3,231.38 2011.9,231.94" stroke="#FF0000" stroke-width="12.85" />
<polyline points="1330.3,379.93 1487.5,342.62 1699.4,313.69 1891.2,289.38 2011.9,270.96" stroke="#00B018" stroke-width="12.85" />
<polyline points="1330.3,409.74 1487.5,380.46 1699.4,343.08 1891.2,302.85 2011.9,273.05" stroke="#0000FF" stroke-width="12.85" />
<polyline points="1330.3,432.91 1487.5,407.54 1699.4,353.08 1891.2,285.31 2011.9,242.88" stroke="#FF00FF" stroke-width="12.85" />
</g>
<g id="labels">
<text x="126.5" y="133.3" font-size="66.0" text-anchor="start" textLength="68.1" lengthAdjust="spacingAndGlyphs">20</text>
<text x="159.3" y="214.9" font-size="66.0" text-anchor="start" textLength="30.7" lengthAdjust="spacingAndGlyphs">0</text>
<text x="104.5" y="319.1" font-size="66.0" text-anchor="start" textLength="87.5" lengthAdjust="spacingAndGlyphs">-20</text>
<text x="104.5" y="423.0" font-size="66.0" text-anchor="start" textLength="87.5" lengthAdjust="spacingAndGlyphs">-40</text>
<text x="104.5" y="515.8" font-size="66.0" text-anchor="start" textLength="87.5" lengthAdjust="spacingAndGlyphs">-60</text>
<text x="109.2" y="685.0" font-size="66.0" text-anchor="start" textLength="93.0" lengthAdjust="spacingAndGlyphs">100</text>
<text x="148.2" y="836.2" font-size="66.0" text-anchor="start" textLength="30.7" lengthAdjust="spacingAndGlyphs">0</text>
<text x="88.9" y="963.4" font-size="66.0" text-anchor="start" textLength="117.0" lengthAdjust="spacingAndGlyphs">-100</text>
<text x="202.3" y="1045.0" font-size="66.7" text-anchor="start" textLength="63.9" lengthAdjust="spacingAndGlyphs">10</text>
<text x="1077.9" y="1045.0" font-size="66.7" text-anchor="start" textLength="94.0" lengthAdjust="spacingAndGlyphs">100</text>
<text transform="translate(1901.0 1045.0) scale(0.9475 1)" x="0 33.35 63.4 100.3" y="0" font-size="66.7">1000</text>
<text x="935.1" y="1115.5" font-size="65.0" text-anchor="start" textLength="393.7" lengthAdjust="spacingAndGlyphs">Frequency(Hz)</text>
<text x="79.6" y="425.5" font-size="61.5" text-anchor="start" textLength="237.0" lengthAdjust="spacingAndGlyphs" transform="rotate(-90 79.6 425.5)">Mag(dB)</text>
<text x="79.6" y="929.4" font-size="61.5" text-anchor="start" textLength="294.1" lengthAdjust="spacingAndGlyphs" transform="rotate(-90 79.6 929.4)">Phase(deg)</text>
<text x="1244.6" y="351.2" font-size="47.5" text-anchor="start" textLength="74.5" lengthAdjust="spacingAndGlyphs">110</text>
<text x="1244.6" y="436.9" font-size="47.5" text-anchor="start" textLength="74.5" lengthAdjust="spacingAndGlyphs">100</text>
<text x="1259.2" y="564.4" font-size="47.5" text-anchor="start" textLength="50.6" lengthAdjust="spacingAndGlyphs">90</text>
<text x="1334.9" y="633.4" font-size="47.5" text-anchor="start" textLength="50.7" lengthAdjust="spacingAndGlyphs">25</text>
<text x="1671.6" y="633.7" font-size="47.5" text-anchor="start" textLength="48.8" lengthAdjust="spacingAndGlyphs">30</text>
<text x="1957.1" y="633.6" font-size="47.5" text-anchor="start" textLength="47.4" lengthAdjust="spacingAndGlyphs">35</text>
</g>
</svg></body></html>
